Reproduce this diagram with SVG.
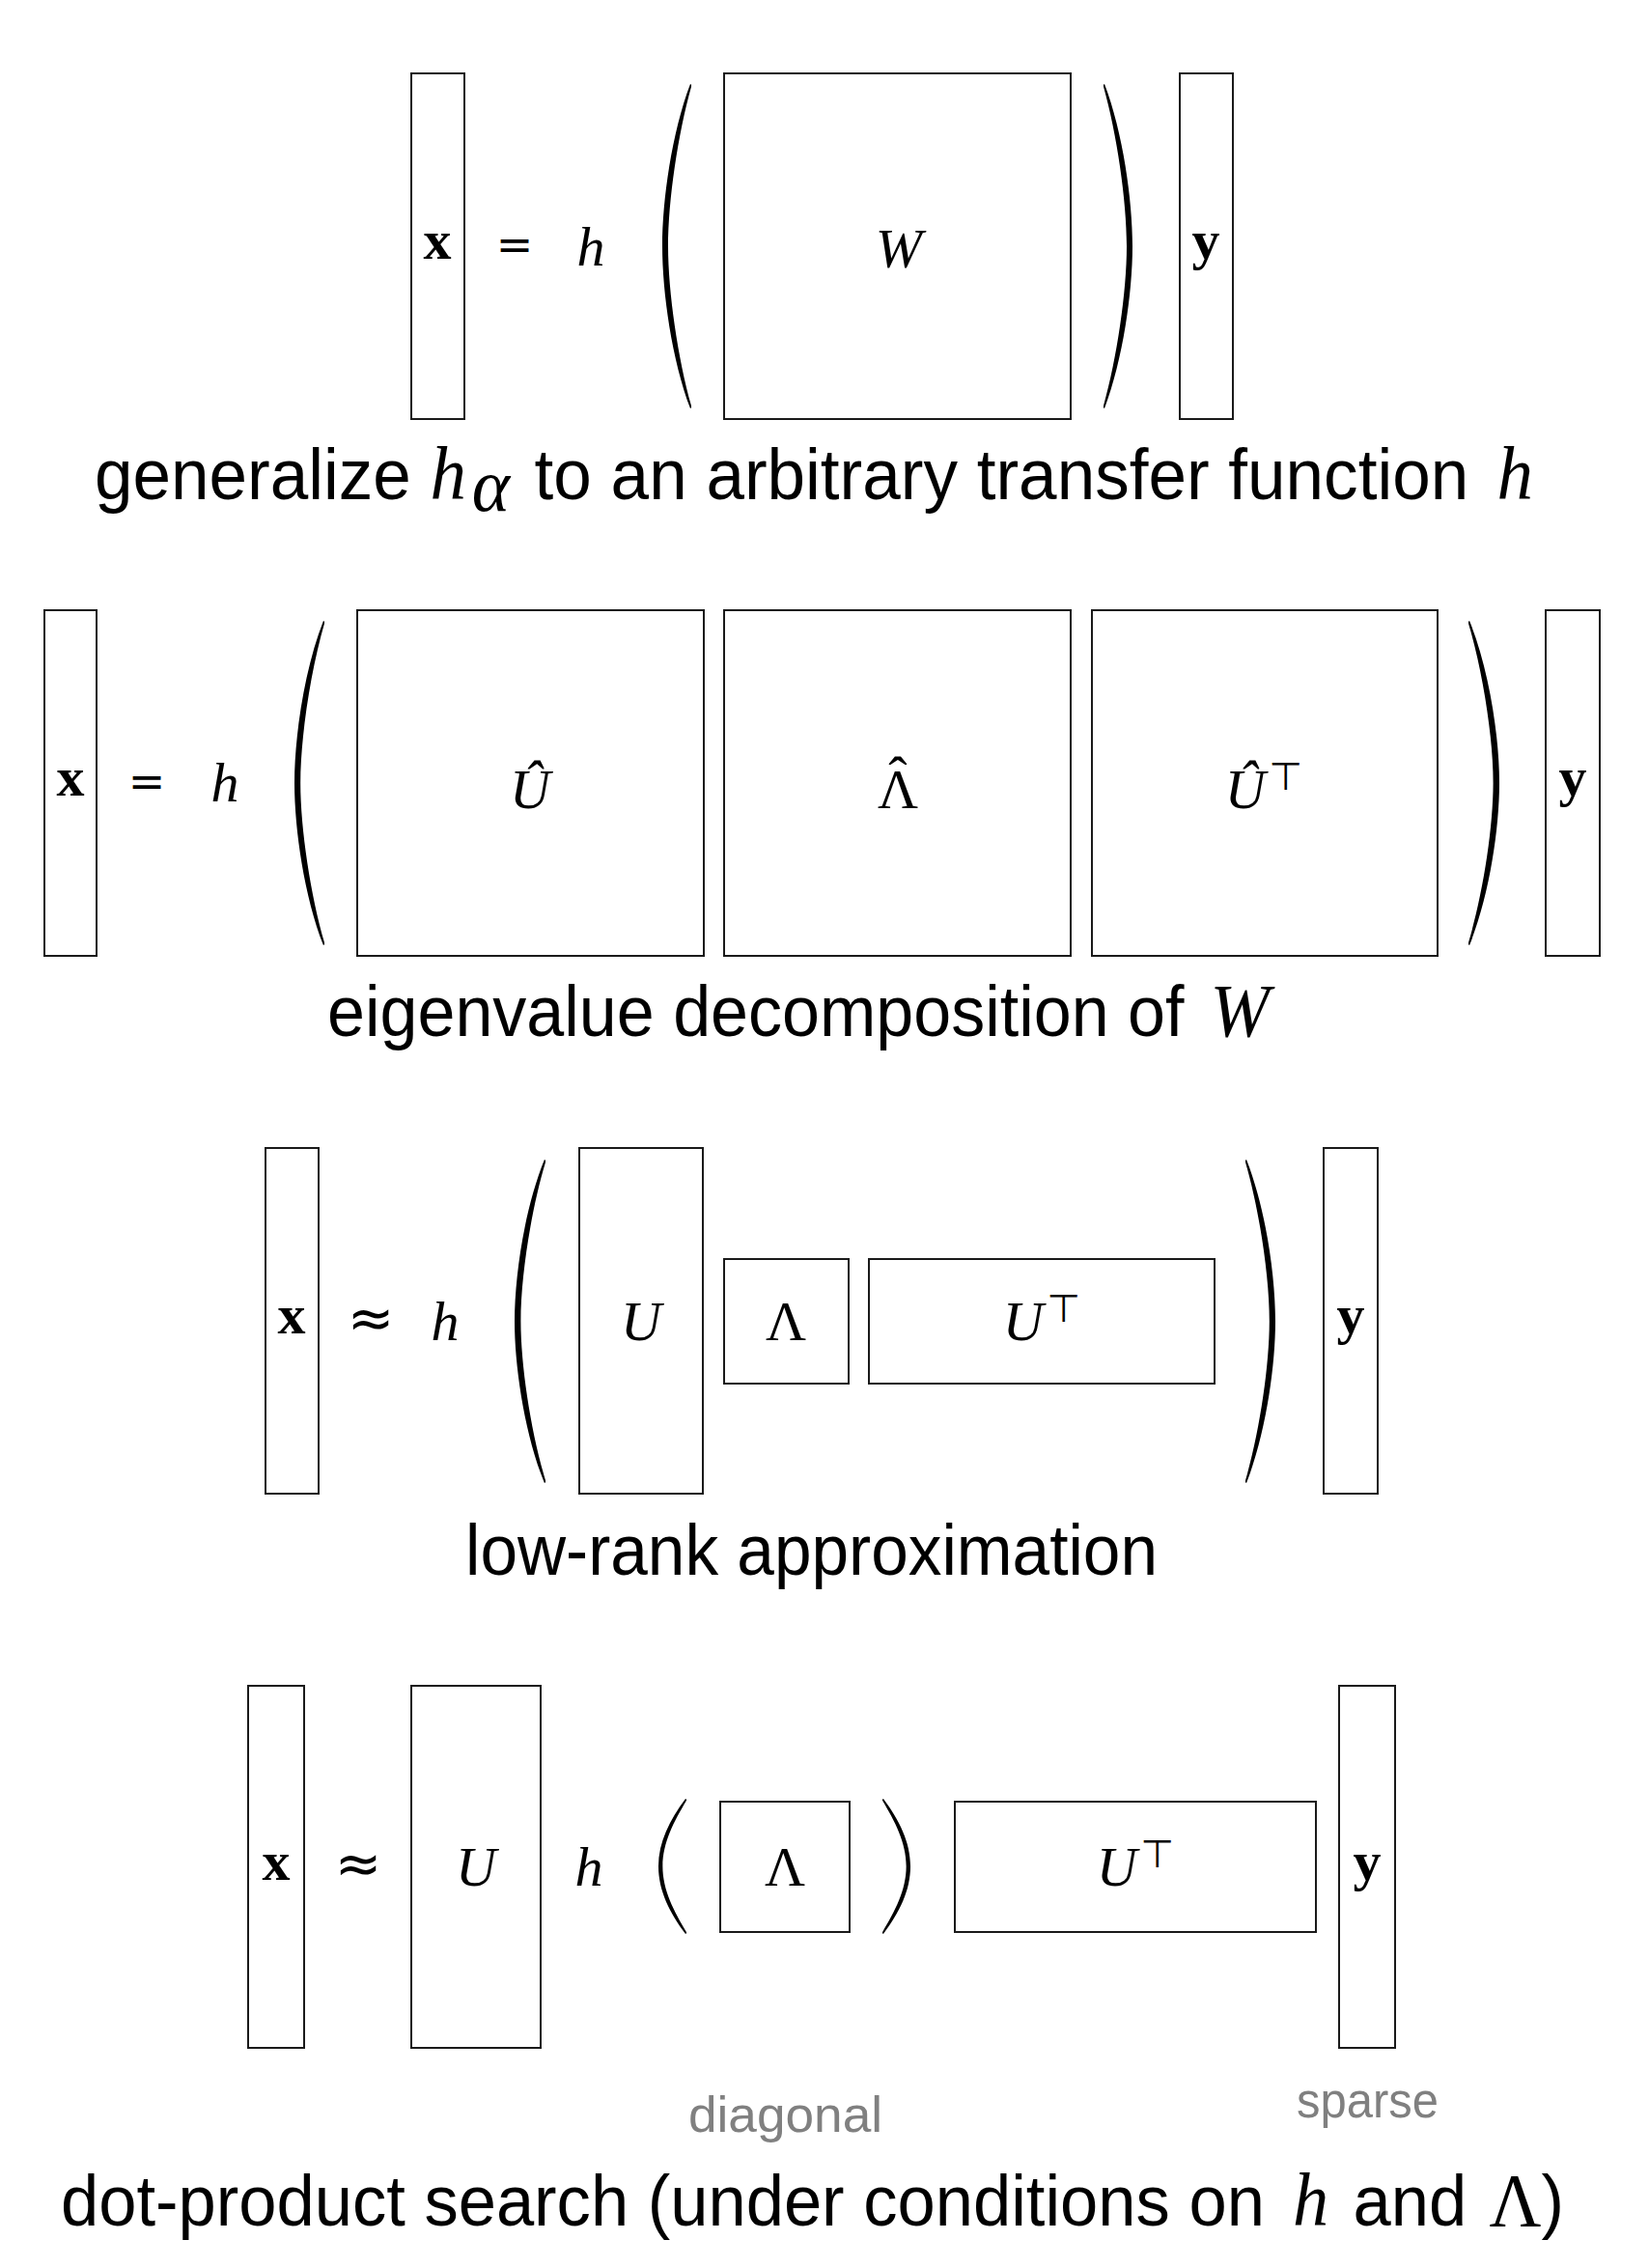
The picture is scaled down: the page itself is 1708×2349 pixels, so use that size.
<svg xmlns="http://www.w3.org/2000/svg" width="1708" height="2349" viewBox="0 0 1708 2349">
<style>
.box{fill:none;stroke:#1a1a1a;stroke-width:2}
.m{font-family:"Liberation Serif","DejaVu Serif",serif;font-size:58px;fill:#000;text-anchor:middle}
.rel{font-family:"DejaVu Serif","Liberation Serif",serif;font-size:46px;fill:#000;text-anchor:middle}
.ap{font-family:"DejaVu Sans","DejaVu Serif",sans-serif;font-size:58px;fill:#000;text-anchor:middle}
.i{font-style:italic}
.b{font-weight:bold}
.sup{font-size:40px;font-style:normal;font-family:"DejaVu Sans","Liberation Serif",sans-serif}
.cap{font-family:"Liberation Sans","DejaVu Sans",sans-serif;font-size:74px;fill:#000}
.cm{font-family:"Liberation Serif","DejaVu Serif",serif;font-style:italic;font-size:78px}
.cu{font-family:"Liberation Serif","DejaVu Serif",serif;font-size:78px}
.note{font-family:"Liberation Sans","DejaVu Sans",sans-serif;font-size:52px;fill:#808080}
.par{fill:#000}
</style>
<defs>
<symbol id="lp" viewBox="0 0 30 336" preserveAspectRatio="none"><path d="M29,0 C10,50 0,120 0,168 C0,216 10,286 29,336 L30.5,335 C16.5,286 6,216 6,168 C6,120 16.5,50 30.5,1 Z"/></symbol>
<symbol id="rp" viewBox="0 0 30 336" preserveAspectRatio="none"><path d="M1,0 C20,50 30,120 30,168 C30,216 20,286 1,336 L-0.5,335 C13.5,286 24,216 24,168 C24,120 13.5,50 -0.5,1 Z"/></symbol>
<symbol id="lps" viewBox="0 0 30 140" preserveAspectRatio="none"><path d="M29,0 C12,22 0,45 0,70 C0,95 12,118 29,140 L30.5,139 C17,117 4.5,95 4.5,70 C4.5,45 17,23 30.5,1 Z"/></symbol>
<symbol id="rps" viewBox="0 0 30 140" preserveAspectRatio="none"><path d="M1,0 C18,22 30,45 30,70 C30,95 18,118 1,140 L-0.5,139 C13,117 25.5,95 25.5,70 C25.5,45 13,23 -0.5,1 Z"/></symbol>
</defs>
<rect width="1708" height="2349" fill="#fff"/>

<!-- Row 1 -->
<g id="r1-x"><rect class="box" x="426" y="76" width="55" height="358"/><text class="m b" x="453" y="268">x</text></g>
<g id="r1-eq"><text class="rel" x="533" y="269">=</text></g>
<g id="r1-h"><text class="m i" x="612" y="275">h</text></g>
<g id="r1-parens"><use href="#lp" class="par" x="686" y="87" width="30" height="336"/><use href="#rp" class="par" x="1143" y="87" width="30" height="336"/></g>
<g id="r1-W"><rect class="box" x="750" y="76" width="359" height="358"/><text class="m i" x="931" y="277">W</text></g>
<g id="r1-y"><rect class="box" x="1222" y="76" width="55" height="358"/><text class="m b" x="1249" y="268">y</text></g>
<g id="r1-caption"><text class="cap" x="98" y="517" textLength="1490" lengthAdjust="spacingAndGlyphs">generalize <tspan class="cm">h</tspan><tspan class="cm" font-size="54" dx="6" dy="12">α</tspan><tspan dx="6" dy="-12"> to an arbitrary transfer function </tspan><tspan class="cm" dx="10">h</tspan></text></g>

<!-- Row 2 -->
<g id="r2-x"><rect class="box" x="46" y="632" width="54" height="358"/><text class="m b" x="73" y="824">x</text></g>
<g id="r2-eq"><text class="rel" x="152" y="825">=</text></g>
<g id="r2-h"><text class="m i" x="233" y="830">h</text></g>
<g id="r2-parens"><use href="#lp" class="par" x="305" y="643" width="31" height="336"/><use href="#rp" class="par" x="1521" y="643" width="32" height="336"/></g>
<g id="r2-Uhat"><rect class="box" x="370" y="632" width="359" height="358"/><text class="m i" x="549" y="837">Û</text></g>
<g id="r2-Lhat"><rect class="box" x="750" y="632" width="359" height="358"/><text class="m" x="930" y="837">Λ</text><text class="m" x="930" y="823">ˆ</text></g>
<g id="r2-UhatT"><rect class="box" x="1131" y="632" width="358" height="358"/><text class="m" x="1309" y="837"><tspan class="i">Û</tspan><tspan class="sup" dx="4" dy="-19">⊤</tspan></text></g>
<g id="r2-y"><rect class="box" x="1601" y="632" width="56" height="358"/><text class="m b" x="1629" y="824">y</text></g>
<g id="r2-caption"><text class="cap" x="339" y="1073" textLength="976" lengthAdjust="spacingAndGlyphs">eigenvalue decomposition of <tspan class="cm" dx="8">W</tspan></text></g>

<!-- Row 3 -->
<g id="r3-x"><rect class="box" x="275" y="1189" width="55" height="358"/><text class="m b" x="302" y="1381">x</text></g>
<g id="r3-approx"><text class="ap" x="384" y="1385">≈</text></g>
<g id="r3-h"><text class="m i" x="461" y="1388">h</text></g>
<g id="r3-parens"><use href="#lp" class="par" x="533" y="1201" width="32" height="335"/><use href="#rp" class="par" x="1290" y="1201" width="31" height="335"/></g>
<g id="r3-U"><rect class="box" x="600" y="1189" width="128" height="358"/><text class="m i" x="664" y="1388">U</text></g>
<g id="r3-L"><rect class="box" x="750" y="1304" width="129" height="129"/><text class="m" x="814" y="1388">Λ</text></g>
<g id="r3-UT"><rect class="box" x="900" y="1304" width="358" height="129"/><text class="m" x="1079" y="1388"><tspan class="i">U</tspan><tspan class="sup" dx="4" dy="-19">⊤</tspan></text></g>
<g id="r3-y"><rect class="box" x="1371" y="1189" width="56" height="358"/><text class="m b" x="1399" y="1381">y</text></g>
<g id="r3-caption"><text class="cap" x="482" y="1631" textLength="717" lengthAdjust="spacingAndGlyphs">low-rank approximation</text></g>

<!-- Row 4 -->
<g id="r4-x"><rect class="box" x="257" y="1746" width="58" height="375"/><text class="m b" x="286" y="1947">x</text></g>
<g id="r4-approx"><text class="ap" x="371" y="1950">≈</text></g>
<g id="r4-U"><rect class="box" x="426" y="1746" width="134" height="375"/><text class="m i" x="493" y="1953">U</text></g>
<g id="r4-h"><text class="m i" x="610" y="1953">h</text></g>
<g id="r4-parens"><use href="#lps" class="par" x="682" y="1863" width="29" height="140"/><use href="#rps" class="par" x="914" y="1863" width="29" height="140"/></g>
<g id="r4-L"><rect class="box" x="746" y="1866" width="134" height="135"/><text class="m" x="813" y="1953">Λ</text></g>
<g id="r4-UT"><rect class="box" x="989" y="1866" width="374" height="135"/><text class="m" x="1176" y="1953"><tspan class="i">U</tspan><tspan class="sup" dx="4" dy="-19">⊤</tspan></text></g>
<g id="r4-y"><rect class="box" x="1387" y="1746" width="58" height="375"/><text class="m b" x="1416" y="1947">y</text></g>
<g id="r4-diagonal"><text class="note" x="713" y="2208" textLength="201" lengthAdjust="spacingAndGlyphs">diagonal</text></g>
<g id="r4-sparse"><text class="note" x="1343" y="2193" textLength="147" lengthAdjust="spacingAndGlyphs">sparse</text></g>
<g id="r4-caption"><text class="cap" x="63" y="2305" textLength="1557" lengthAdjust="spacingAndGlyphs">dot-product search (under conditions on <tspan class="cm" dx="10">h</tspan><tspan dx="6"> and </tspan><tspan class="cu" dx="4">Λ</tspan>)</text></g>

<g id="connectors"/>
</svg>
